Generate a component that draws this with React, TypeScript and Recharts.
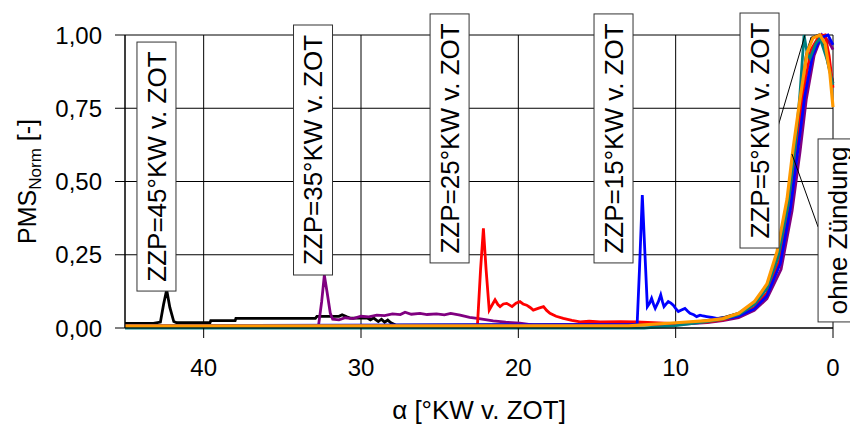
import React from "react";
import {
  LineChart,
  Line,
  XAxis,
  YAxis,
  CartesianGrid,
  ReferenceDot,
  ReferenceLine,
} from "recharts";

const FONT = '"Liberation Sans", Arial, sans-serif';

const xTicks = [0, 10, 20, 30, 40];
const yTicks = [0, 0.25, 0.5, 0.75, 1];
const yTickLabels = ["0,00", "0,25", "0,50", "0,75", "1,00"];

// ZZP = 45°KW v. ZOT (black)
const angle45 = [45, 43.2, 42.75, 42.55, 42.35, 42.15, 41.9, 41.7, 39.6, 39.55, 38.0, 37.95, 32.9, 32.8, 31.4, 31.2, 30.9, 30.7, 29.6, 29.4, 29.2, 28.9, 28.7, 28.5, 28.3, 28.1, 27.8, 10, 8, 7, 6, 5, 4.2, 3.5, 2.85, 2.45, 2.05, 1.7, 1.35, 0.9, 0.5, 0.2, 0];
const pms45 = [0.016, 0.016, 0.02, 0.08, 0.13, 0.07, 0.022, 0.018, 0.018, 0.025, 0.025, 0.033, 0.033, 0.04, 0.04, 0.045, 0.038, 0.034, 0.034, 0.028, 0.034, 0.022, 0.03, 0.02, 0.027, 0.018, 0.01, 0.012, 0.025, 0.035, 0.05, 0.085, 0.14, 0.25, 0.44, 0.61, 0.78, 0.93, 0.99, 1.0, 0.95, 0.88, 0.836];

// ZZP = 35°KW v. ZOT (purple)
const angle35 = [45, 32.7, 32.5, 32.33, 32.15, 31.95, 31.8, 31.4, 31, 30.5, 30, 29.5, 29, 28.5, 28, 27.5, 27.2, 26.8, 26.25, 25.8, 25.2, 24.7, 24.3, 23.7, 23.1, 22.5, 21.6, 20.8, 19.9, 19, 10, 8, 7, 6, 5, 4.2, 3.3, 2.6, 2.1, 1.7, 1.2, 0.7, 0.3, 0];
const pms35 = [0.008, 0.008, 0.09, 0.18, 0.12, 0.05, 0.03, 0.028, 0.035, 0.032, 0.04, 0.038, 0.044, 0.042, 0.048, 0.046, 0.054, 0.047, 0.05, 0.046, 0.048, 0.045, 0.05, 0.044, 0.036, 0.032, 0.024, 0.02, 0.017, 0.01, 0.012, 0.018, 0.025, 0.035, 0.06, 0.1, 0.2, 0.4, 0.6, 0.78, 0.93, 1.0, 0.98, 0.95];

// ZZP = 25°KW v. ZOT (red)
const angle25 = [45, 22.6, 22.4, 22.22, 22.05, 21.85, 21.65, 21.48, 21.3, 21.16, 20.95, 20.74, 20.55, 20.4, 20.15, 19.9, 19.7, 19.47, 19.25, 19.05, 18.7, 18.4, 18.2, 17.99, 17.6, 17.14, 16.6, 16.08, 15.5, 14.8, 13.5, 12.5, 10, 8, 7, 6, 5, 4.2, 3.4, 2.75, 2.3, 1.9, 1.4, 0.9, 0.5, 0.25, 0];
const pms25 = [0.008, 0.008, 0.2, 0.34, 0.2, 0.061, 0.08, 0.096, 0.08, 0.073, 0.082, 0.084, 0.078, 0.073, 0.085, 0.09, 0.082, 0.078, 0.07, 0.061, 0.068, 0.073, 0.06, 0.05, 0.04, 0.033, 0.026, 0.021, 0.023, 0.021, 0.022, 0.021, 0.015, 0.02, 0.028, 0.04, 0.07, 0.12, 0.23, 0.42, 0.61, 0.8, 0.95, 0.995, 1.0, 0.93, 0.82];

// ZZP = 15°KW v. ZOT (blue)
const angle15 = [45, 12.45, 12.3, 12.12, 11.95, 11.8, 11.65, 11.53, 11.4, 11.3, 11.1, 10.95, 10.84, 10.74, 10.6, 10.47, 10.3, 10.15, 9.98, 9.83, 9.6, 9.41, 9.25, 9.09, 8.85, 8.67, 8.45, 8.25, 8.03, 7.7, 7.39, 6.5, 6, 5, 4.2, 3.35, 2.7, 2.25, 1.8, 1.3, 0.8, 0.32, 0];
const pms15 = [0.008, 0.012, 0.2, 0.454, 0.25, 0.073, 0.085, 0.101, 0.08, 0.067, 0.09, 0.113, 0.09, 0.073, 0.082, 0.09, 0.085, 0.078, 0.065, 0.056, 0.062, 0.067, 0.058, 0.05, 0.045, 0.039, 0.044, 0.041, 0.039, 0.036, 0.033, 0.035, 0.04, 0.065, 0.11, 0.22, 0.41, 0.6, 0.79, 0.93, 0.99, 1.0, 0.966];

// ZZP = 5°KW v. ZOT (teal)
const angle5 = [45, 12, 10, 8, 7, 6, 5, 4.2, 3.5, 2.85, 2.4, 2.1, 1.84, 1.65, 1.46, 1.1, 0.83, 0.4, 0];
const pms5 = [0.0, 0.0, 0.008, 0.022, 0.03, 0.045, 0.08, 0.135, 0.24, 0.42, 0.62, 0.8, 1.0, 0.94, 0.92, 0.97, 0.99, 0.92, 0.83];

// ohne Zündung (orange)
const angleMot = [45, 13, 10, 8, 7, 6, 5, 4.2, 3.56, 2.92, 2.54, 2.1, 1.65, 1.27, 0.83, 0.5, 0.2, 0];
const pmsMot = [0.0075, 0.0075, 0.018, 0.025, 0.032, 0.05, 0.09, 0.15, 0.26, 0.44, 0.61, 0.78, 0.94, 0.99, 1.0, 0.97, 0.87, 0.754];

const toPoints = (a: number[], v: number[]) => a.map((x, i) => ({ a: x, v: v[i] }));

const series = [
  { key: "zzp45", color: "#000000", width: 2.8, data: toPoints(angle45, pms45) },
  { key: "zzp35", color: "#800080", width: 2.8, data: toPoints(angle35, pms35) },
  { key: "zzp25", color: "#ff0000", width: 2.8, data: toPoints(angle25, pms25) },
  { key: "zzp15", color: "#0000ff", width: 2.8, data: toPoints(angle15, pms15) },
  { key: "zzp5", color: "#008080", width: 2.8, data: toPoints(angle5, pms5) },
  { key: "mot", color: "#ff9900", width: 3.2, data: toPoints(angleMot, pmsMot) },
];

const labels = [
  { text: "ZZP=45°KW v. ZOT", a: 43.0, v: 0.551, h: 249 },
  { text: "ZZP=35°KW v. ZOT", a: 33.05, v: 0.6075, h: 250 },
  { text: "ZZP=25°KW v. ZOT", a: 24.37, v: 0.647, h: 249 },
  { text: "ZZP=15°KW v. ZOT", a: 13.95, v: 0.647, h: 249 },
  { text: "ZZP=5°KW v. ZOT", a: 4.67, v: 0.674, h: 235 },
  { text: "ohne Zündung", a: -0.29, v: 0.333, h: 183 },
];

const LabelBox = (text: string, h: number) => (props: any) => {
  const { cx, cy } = props;
  const fs = 26;
  return (
    <g>
      <rect x={cx - 19.5} y={cy - h / 2} width={39} height={h} fill="#fff" stroke="#333" strokeWidth={1} />
      <text
        transform={`translate(${cx + fs * 0.358},${cy}) rotate(-90)`}
        textAnchor="middle"
        fontFamily={FONT}
        fontSize={fs}
        fill="#000"
      >
        {text}
      </text>
    </g>
  );
};

const YTitle = (props: any) => {
  const vb = props.viewBox || { y: 35, height: 293 };
  const cy = vb.y + vb.height / 2;
  return (
    <text transform={`translate(36,${cy}) rotate(-90)`} textAnchor="middle" fontFamily={FONT} fontSize={25} fill="#000">
      <tspan>PMS</tspan>
      <tspan fontSize={17} dy={5}>Norm</tspan>
      <tspan dy={-5}> [-]</tspan>
    </text>
  );
};

const XTitle = (props: any) => {
  const vb = props.viewBox || { x: 125, width: 708 };
  return (
    <text x={vb.x + vb.width / 2} y={419} textAnchor="middle" fontFamily={FONT} fontSize={26} fill="#000">
      α [°KW v. ZOT]
    </text>
  );
};

export default function App() {
  return (
    <div style={{ position: "absolute", left: 0, top: 0, width: 850, height: 426, background: "#fff" }}>
      <LineChart width={850} height={426} margin={{ top: 35, right: 17, bottom: 0, left: 0 }}>
        <CartesianGrid stroke="#000" strokeWidth={1} />
        <XAxis
          type="number"
          dataKey="a"
          domain={[0, 45]}
          reversed
          ticks={xTicks}
          height={98}
          tickSize={10}
          tickMargin={21}
          axisLine={{ stroke: "#000" }}
          tickLine={{ stroke: "#000" }}
          tick={{ fill: "#000", fontSize: 24, fontFamily: FONT }}
          label={<XTitle />}
        />
        <YAxis
          type="number"
          domain={[0, 1]}
          ticks={yTicks}
          width={125}
          tickSize={10}
          tickMargin={13}
          tickFormatter={(v: number) => yTickLabels[yTicks.indexOf(v)]}
          axisLine={{ stroke: "#000" }}
          tickLine={{ stroke: "#000" }}
          tick={{ fill: "#000", fontSize: 24, fontFamily: FONT }}
          label={<YTitle />}
        />
        {series.map((s) => (
          <Line
            key={s.key}
            data={s.data}
            dataKey="v"
            type="linear"
            stroke={s.color}
            strokeWidth={s.width}
            dot={false}
            activeDot={false}
            isAnimationActive={false}
          />
        ))}
        <ReferenceLine segment={[{ x: 3.56, y: 0.676 }, { x: 1.78, y: 1 }]} stroke="#000" strokeWidth={1} ifOverflow="visible" />
        <ReferenceLine segment={[{ x: 0.95, y: 0.345 }, { x: 2.61, y: 0.594 }]} stroke="#000" strokeWidth={1} ifOverflow="visible" />
        {labels.map((l) => (
          <ReferenceDot key={l.text} x={l.a} y={l.v} r={1} ifOverflow="visible" shape={LabelBox(l.text, l.h)} />
        ))}
      </LineChart>
    </div>
  );
}
